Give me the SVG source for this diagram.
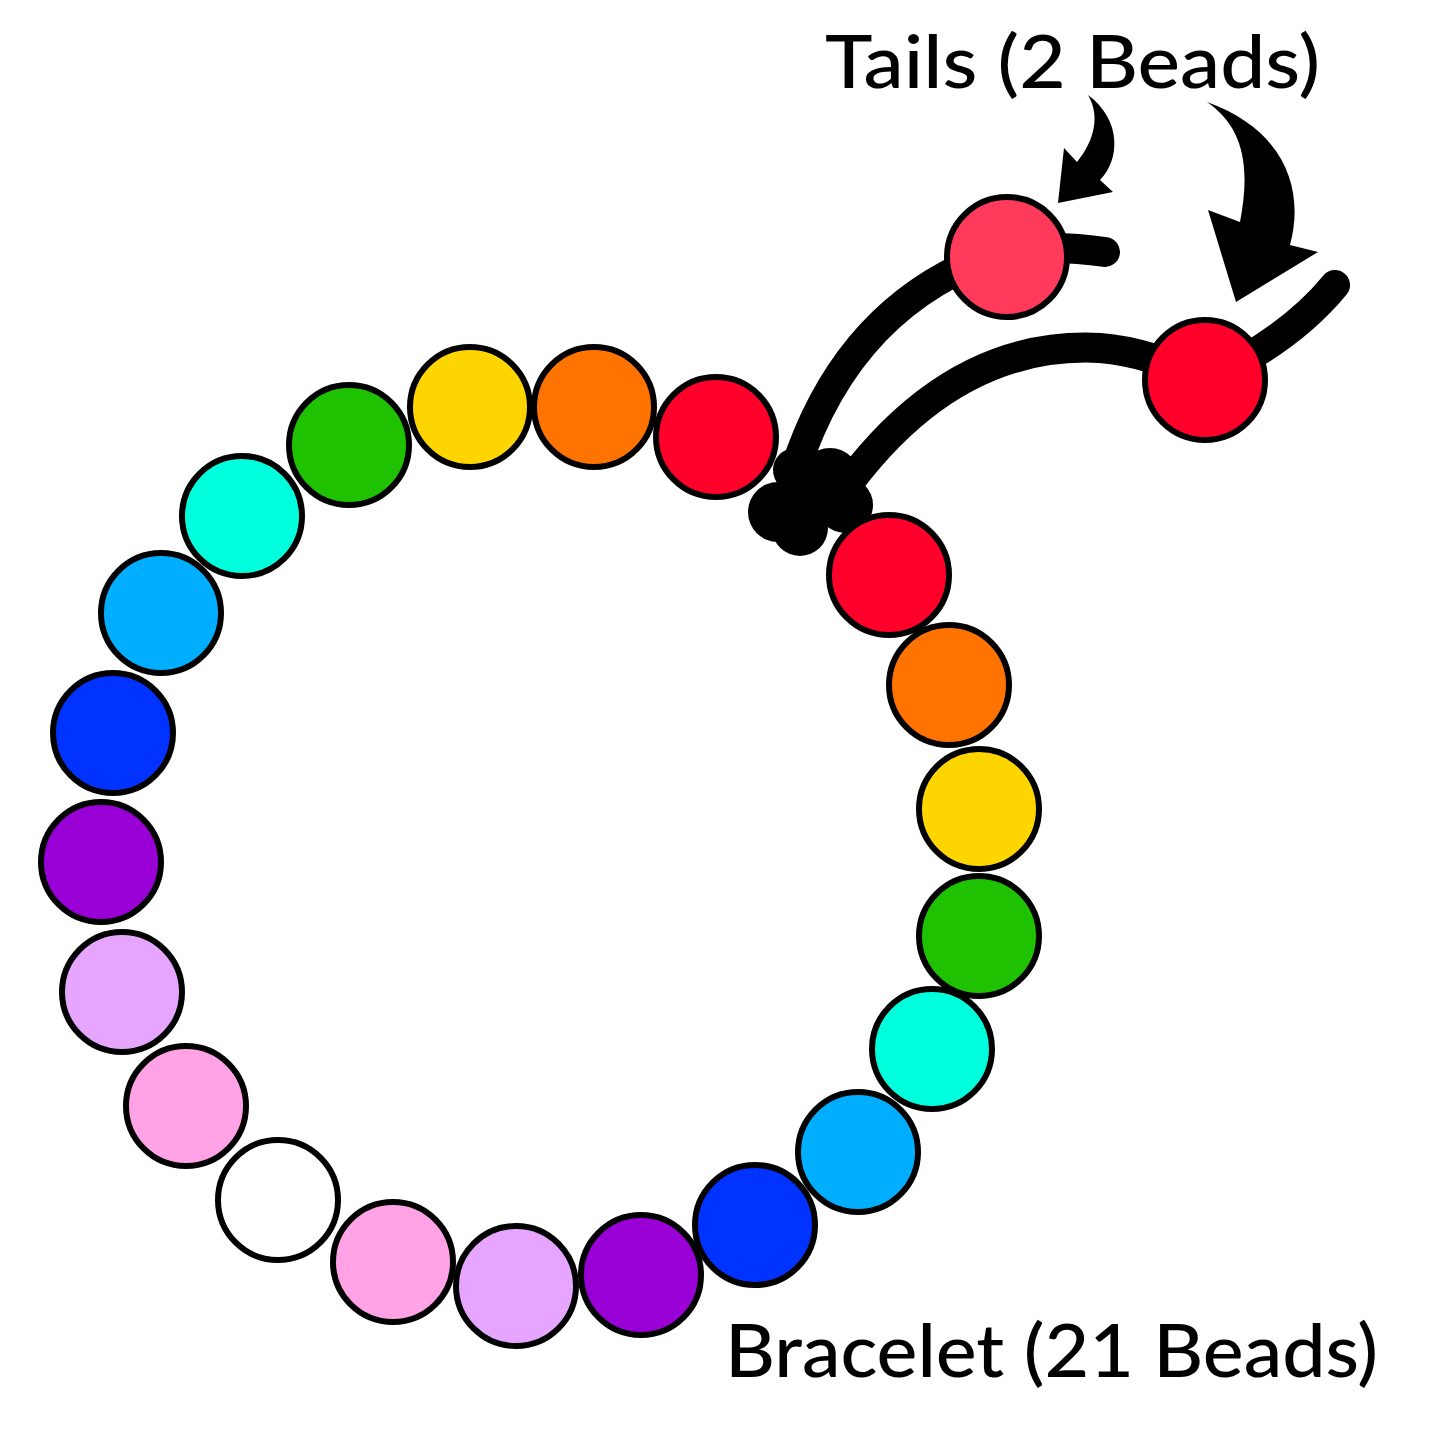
<svg xmlns="http://www.w3.org/2000/svg" width="1445" height="1445" viewBox="0 0 1445 1445">
<style>
.b{stroke:#000;stroke-width:6}
.s{fill:none;stroke:#000;stroke-width:30;stroke-linecap:round}
.t{font-family:Lato,"Liberation Sans",sans-serif;font-size:74px;fill:#000;font-weight:500}
</style>
<rect width="1445" height="1445" fill="#fff"/>
<g id="connectors">
<path class="s" d="M795,470 Q850,300 1007,250 Q1060,245 1105,252"/>
<path class="s" d="M840,495 Q950,340 1100,348 Q1150,352 1205,380 Q1290,340 1335,285"/>
<path d="M1088,95 C1122,120 1120,160 1100,180 L1113,192 L1058,203 L1064,148 L1077,162 C1095,140 1100,115 1088,95 Z"/>
<path d="M1207,102 C1285,130 1305,190 1290,245 L1318,252 L1236,302 L1208,210 L1240,222 C1252,160 1240,125 1207,102 Z"/>
</g>
<g id="bead-t1"><circle class="b" cx="1007" cy="257" r="60" fill="#FF3A5A"/></g>
<g id="bead-t2"><circle class="b" cx="1205" cy="380" r="60" fill="#FF002B"/></g>
<g id="b1"><circle class="b" cx="716" cy="437" r="60" fill="#FF002B"/></g>
<g id="b2"><circle class="b" cx="594" cy="407" r="60" fill="#FF7300"/></g>
<g id="b3"><circle class="b" cx="470" cy="407" r="60" fill="#FFD500"/></g>
<g id="b4"><circle class="b" cx="349" cy="445" r="60" fill="#1FC200"/></g>
<g id="b5"><circle class="b" cx="242" cy="516" r="60" fill="#00FFDD"/></g>
<g id="b6"><circle class="b" cx="161" cy="613" r="60" fill="#00AEFF"/></g>
<g id="b7"><circle class="b" cx="113" cy="733" r="60" fill="#0033FF"/></g>
<g id="b8"><circle class="b" cx="101" cy="862" r="60" fill="#9900D6"/></g>
<g id="b9"><circle class="b" cx="122" cy="992" r="60" fill="#E6A6FF"/></g>
<g id="b10"><circle class="b" cx="186" cy="1106" r="60" fill="#FFA3E6"/></g>
<g id="b11"><circle class="b" cx="278" cy="1200" r="60" fill="#FFFFFF"/></g>
<g id="b12"><circle class="b" cx="393" cy="1262" r="60" fill="#FFA3E6"/></g>
<g id="b13"><circle class="b" cx="516" cy="1286" r="60" fill="#E6A6FF"/></g>
<g id="b14"><circle class="b" cx="641" cy="1275" r="60" fill="#9900D6"/></g>
<g id="b15"><circle class="b" cx="755" cy="1225" r="60" fill="#0033FF"/></g>
<g id="b16"><circle class="b" cx="858" cy="1152" r="60" fill="#00AEFF"/></g>
<g id="b17"><circle class="b" cx="932" cy="1049" r="60" fill="#00FFDD"/></g>
<g id="b18"><circle class="b" cx="979" cy="936" r="60" fill="#1FC200"/></g>
<g id="b19"><circle class="b" cx="979" cy="809" r="60" fill="#FFD500"/></g>
<g id="b20"><circle class="b" cx="949" cy="685" r="60" fill="#FF7300"/></g>
<g id="knot">
<circle cx="778" cy="512" r="30"/><circle cx="800" cy="528" r="28"/><circle cx="830" cy="478" r="30"/><circle cx="845" cy="505" r="28"/><circle cx="808" cy="492" r="32"/><circle cx="795" cy="470" r="22"/>
</g>
<g id="b21"><circle class="b" cx="889" cy="575" r="60" fill="#FF002B"/></g>
<g id="labels">
<text class="t" x="825" y="88" textLength="495" lengthAdjust="spacingAndGlyphs">Tails (2 Beads)</text>
<text class="t" x="725" y="1377" textLength="653" lengthAdjust="spacingAndGlyphs">Bracelet (21 Beads)</text>
</g>
</svg>
